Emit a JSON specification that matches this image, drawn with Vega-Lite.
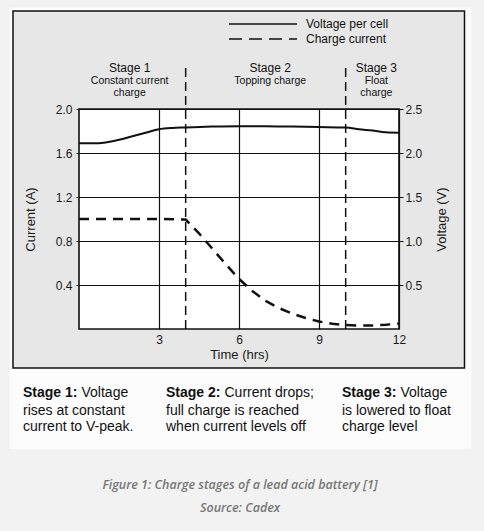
{
  "$schema": "https://vega.github.io/schema/vega-lite/v6.json",
  "width": 320,
  "height": 220,
  "autosize": {"type": "none"},
  "padding": {"left": 79, "top": 109, "right": 85, "bottom": 202},
  "background": "#f2f2f2",
  "config": {
    "font": "Liberation Sans",
    "view": {"stroke": null},
    "axis": {
      "labelFont": "Liberation Sans",
      "titleFont": "Liberation Sans",
      "labelColor": "#1a1a1a",
      "titleColor": "#1a1a1a",
      "titleFontWeight": "normal",
      "labelFontSize": 12,
      "titleFontSize": 13,
      "domain": false,
      "tickColor": "#111",
      "gridColor": "#111",
      "gridOpacity": 1,
      "gridWidth": 1.2
    },
    "text": {"font": "Liberation Sans", "color": "#111", "baseline": "middle"}
  },
  "layer": [
    {
      "resolve": {"axis": {"x": "independent", "y": "independent"}},
      "layer": [
        {
          "data": {"values": [{}]},
          "mark": {"type": "rect", "fill": "#fcfcfc"},
          "encoding": {
            "x": {"datum": -2.606, "type": "quantitative", "scale": {"domain": [0, 12]}, "axis": null},
            "x2": {"datum": 14.72},
            "y": {"datum": 2.923, "type": "quantitative", "scale": {"domain": [0, 2]}, "axis": null},
            "y2": {"datum": -1.091}
          }
        },
        {
          "data": {"values": [{}]},
          "mark": {"type": "rect", "fill": "#e7e7e7", "stroke": "#111", "strokeWidth": 1.5},
          "encoding": {
            "x": {"datum": -2.475, "type": "quantitative", "scale": {"domain": [0, 12]}, "axis": null},
            "x2": {"datum": 14.456},
            "y": {"datum": 2.891, "type": "quantitative", "scale": {"domain": [0, 2]}, "axis": null},
            "y2": {"datum": -0.3545}
          }
        },
        {
          "data": {"values": [{}]},
          "mark": {"type": "rect", "fill": "#ffffff", "stroke": "#111", "strokeWidth": 1.6},
          "encoding": {
            "x": {"datum": 0, "type": "quantitative", "scale": {"domain": [0, 12]}, "axis": null},
            "x2": {"datum": 12},
            "y": {"datum": 0, "type": "quantitative", "scale": {"domain": [0, 2]}, "axis": null},
            "y2": {"datum": 2}
          }
        },
        {
          "data": {"values": [
            {"t": 0, "a": 1.0}, {"t": 1, "a": 1.0}, {"t": 2, "a": 1.0}, {"t": 3, "a": 1.0},
            {"t": 4, "a": 0.995}, {"t": 4.5, "a": 0.87}, {"t": 5, "a": 0.73}, {"t": 5.5, "a": 0.59},
            {"t": 6, "a": 0.455}, {"t": 6.5, "a": 0.345}, {"t": 7, "a": 0.255}, {"t": 7.5, "a": 0.19},
            {"t": 8, "a": 0.14}, {"t": 8.5, "a": 0.1}, {"t": 9, "a": 0.068}, {"t": 9.5, "a": 0.047},
            {"t": 10, "a": 0.036}, {"t": 10.5, "a": 0.032}, {"t": 11, "a": 0.032}, {"t": 11.5, "a": 0.038},
            {"t": 12, "a": 0.05}
          ]},
          "mark": {"type": "line", "color": "#111", "strokeWidth": 2.5, "strokeDash": [10, 7]},
          "encoding": {
            "x": {
              "field": "t", "type": "quantitative", "scale": {"domain": [0, 12]},
              "axis": {"values": [3, 6, 9, 12], "format": "d", "title": "Time (hrs)", "grid": true, "ticks": false, "labelFlush": false, "labelPadding": 5, "titlePadding": 3, "zindex": 1}
            },
            "y": {
              "field": "a", "type": "quantitative", "scale": {"domain": [0, 2]},
              "axis": {"values": [0.4, 0.8, 1.2, 1.6, 2.0], "format": ".1f", "title": "Current (A)", "grid": true, "ticks": true, "tickSize": 3, "labelPadding": 4, "titlePadding": 18, "zindex": 1}
            }
          }
        },
        {
          "data": {"values": [{"t": 4}, {"t": 10}]},
          "mark": {"type": "rule", "color": "#111", "strokeWidth": 1.5, "strokeDash": [9, 5]},
          "encoding": {
            "x": {"field": "t", "type": "quantitative", "scale": {"domain": [0, 12]}, "axis": null},
            "y": {"datum": 0, "type": "quantitative", "scale": {"domain": [0, 2]}, "axis": null},
            "y2": {"datum": 2.409}
          }
        },
        {
          "data": {"name": "stages", "values": [
            {"stage": "Stage 1", "x": 1.9, "d1": "Constant current", "d2": "charge"},
            {"stage": "Stage 2", "x": 7.17, "d1": "Topping charge", "d2": ""},
            {"stage": "Stage 3", "x": 11.15, "d1": "Float", "d2": "charge"}
          ]},
          "mark": {"type": "text", "fontSize": 12, "align": "center"},
          "encoding": {
            "x": {"field": "x", "type": "quantitative", "scale": {"domain": [0, 12]}, "axis": null},
            "y": {"datum": 2.373, "type": "quantitative", "scale": {"domain": [0, 2]}, "axis": null},
            "text": {"field": "stage"}
          }
        },
        {
          "data": {"name": "stages"},
          "mark": {"type": "text", "fontSize": 10.5, "align": "center"},
          "encoding": {
            "x": {"field": "x", "type": "quantitative", "scale": {"domain": [0, 12]}, "axis": null},
            "y": {"datum": 2.255, "type": "quantitative", "scale": {"domain": [0, 2]}, "axis": null},
            "text": {"field": "d1"}
          }
        },
        {
          "data": {"name": "stages"},
          "mark": {"type": "text", "fontSize": 10.5, "align": "center"},
          "encoding": {
            "x": {"field": "x", "type": "quantitative", "scale": {"domain": [0, 12]}, "axis": null},
            "y": {"datum": 2.145, "type": "quantitative", "scale": {"domain": [0, 2]}, "axis": null},
            "text": {"field": "d2"}
          }
        },
        {
          "data": {"values": [{"label": "Voltage per cell"}]},
          "mark": {"type": "rule", "color": "#111", "strokeWidth": 1.5},
          "encoding": {
            "x": {"datum": 5.625, "type": "quantitative", "scale": {"domain": [0, 12]}, "axis": null},
            "x2": {"datum": 8.175},
            "y": {"datum": 2.773, "type": "quantitative", "scale": {"domain": [0, 2]}, "axis": null}
          }
        },
        {
          "data": {"values": [{"label": "Charge current"}]},
          "mark": {"type": "rule", "color": "#111", "strokeWidth": 1.5, "strokeDash": [13, 7]},
          "encoding": {
            "x": {"datum": 5.625, "type": "quantitative", "scale": {"domain": [0, 12]}, "axis": null},
            "x2": {"datum": 8.175},
            "y": {"datum": 2.636, "type": "quantitative", "scale": {"domain": [0, 2]}, "axis": null}
          }
        },
        {
          "data": {"values": [{"label": "Voltage per cell"}]},
          "mark": {"type": "text", "fontSize": 12, "align": "left"},
          "encoding": {
            "x": {"datum": 8.5125, "type": "quantitative", "scale": {"domain": [0, 12]}, "axis": null},
            "y": {"datum": 2.773, "type": "quantitative", "scale": {"domain": [0, 2]}, "axis": null},
            "text": {"field": "label"}
          }
        },
        {
          "data": {"values": [{"label": "Charge current"}]},
          "mark": {"type": "text", "fontSize": 12, "align": "left"},
          "encoding": {
            "x": {"datum": 8.5125, "type": "quantitative", "scale": {"domain": [0, 12]}, "axis": null},
            "y": {"datum": 2.636, "type": "quantitative", "scale": {"domain": [0, 2]}, "axis": null},
            "text": {"field": "label"}
          }
        },
        {
          "data": {"name": "notes", "values": [
            {"x": -2.1, "head": "Stage 1:", "l1": "Voltage", "l2": "rises at constant", "l3": "current to V-peak."},
            {"x": 3.2625, "head": "Stage 2:", "l1": "Current drops;", "l2": "full charge is reached", "l3": "when current levels off"},
            {"x": 9.8625, "head": "Stage 3:", "l1": "Voltage", "l2": "is lowered to float", "l3": "charge level"}
          ]},
          "mark": {"type": "text", "fontSize": 14, "fontWeight": "bold", "align": "left"},
          "encoding": {
            "x": {"field": "x", "type": "quantitative", "scale": {"domain": [0, 12]}, "axis": null},
            "y": {"datum": -0.582, "type": "quantitative", "scale": {"domain": [0, 2]}, "axis": null},
            "text": {"field": "head"}
          }
        },
        {
          "data": {"name": "notes"},
          "mark": {"type": "text", "fontSize": 14, "align": "left", "dx": 58.5},
          "encoding": {
            "x": {"field": "x", "type": "quantitative", "scale": {"domain": [0, 12]}, "axis": null},
            "y": {"datum": -0.582, "type": "quantitative", "scale": {"domain": [0, 2]}, "axis": null},
            "text": {"field": "l1"}
          }
        },
        {
          "data": {"name": "notes"},
          "mark": {"type": "text", "fontSize": 14, "align": "left"},
          "encoding": {
            "x": {"field": "x", "type": "quantitative", "scale": {"domain": [0, 12]}, "axis": null},
            "y": {"datum": -0.741, "type": "quantitative", "scale": {"domain": [0, 2]}, "axis": null},
            "text": {"field": "l2"}
          }
        },
        {
          "data": {"name": "notes"},
          "mark": {"type": "text", "fontSize": 14, "align": "left"},
          "encoding": {
            "x": {"field": "x", "type": "quantitative", "scale": {"domain": [0, 12]}, "axis": null},
            "y": {"datum": -0.891, "type": "quantitative", "scale": {"domain": [0, 2]}, "axis": null},
            "text": {"field": "l3"}
          }
        },
        {
          "data": {"name": "caption", "values": [{"fig": "Figure 1: Charge stages of a lead acid battery [1]", "src": "Source: Cadex"}]},
          "mark": {"type": "text", "font": "Open Sans", "fontStyle": "italic", "fontWeight": 600, "fontSize": 12.5, "align": "center", "color": "#767676"},
          "encoding": {
            "x": {"datum": 6.04, "type": "quantitative", "scale": {"domain": [0, 12]}, "axis": null},
            "y": {"datum": -1.418, "type": "quantitative", "scale": {"domain": [0, 2]}, "axis": null},
            "text": {"field": "fig"}
          }
        },
        {
          "data": {"name": "caption"},
          "mark": {"type": "text", "font": "Open Sans", "fontStyle": "italic", "fontWeight": 600, "fontSize": 12.5, "align": "center", "color": "#767676"},
          "encoding": {
            "x": {"datum": 6.04, "type": "quantitative", "scale": {"domain": [0, 12]}, "axis": null},
            "y": {"datum": -1.627, "type": "quantitative", "scale": {"domain": [0, 2]}, "axis": null},
            "text": {"field": "src"}
          }
        }
      ]
    },
    {
      "data": {"values": [
        {"t": 0, "v": 2.11}, {"t": 0.5, "v": 2.11}, {"t": 1, "v": 2.12}, {"t": 1.5, "v": 2.15},
        {"t": 2, "v": 2.19}, {"t": 2.5, "v": 2.23}, {"t": 3, "v": 2.27}, {"t": 3.5, "v": 2.285},
        {"t": 4, "v": 2.29}, {"t": 5, "v": 2.3}, {"t": 6, "v": 2.305}, {"t": 7, "v": 2.305},
        {"t": 8, "v": 2.3}, {"t": 9, "v": 2.295}, {"t": 10, "v": 2.29}, {"t": 10.5, "v": 2.27},
        {"t": 11, "v": 2.255}, {"t": 11.5, "v": 2.235}, {"t": 12, "v": 2.23}
      ]},
      "mark": {"type": "line", "color": "#111", "strokeWidth": 2, "interpolate": "monotone"},
      "encoding": {
        "x": {"field": "t", "type": "quantitative", "scale": {"domain": [0, 12]}, "axis": null},
        "y": {
          "field": "v", "type": "quantitative", "scale": {"domain": [0, 2.5], "nice": false},
          "axis": {"orient": "right", "values": [0.5, 1.0, 1.5, 2.0, 2.5], "format": ".1f", "title": "Voltage (V)", "titleAngle": -90, "titleBaseline": "top", "grid": false, "ticks": true, "tickSize": 4, "labelPadding": 2, "titlePadding": 14, "zindex": 1}
        }
      }
    }
  ],
  "resolve": {"scale": {"y": "independent"}, "axis": {"x": "independent", "y": "independent"}}
}
